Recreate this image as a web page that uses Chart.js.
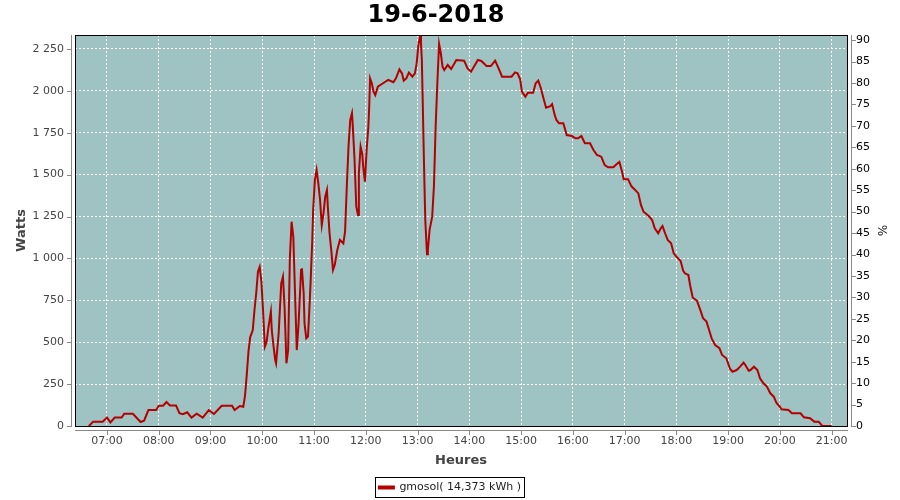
<!DOCTYPE html>
<html lang="fr">
<head>
    <meta charset="UTF-8">
    <title>19-6-2018</title>
    <script src="https://cdn.jsdelivr.net/npm/chart.js"></script>
    <style>
        body { margin: 0; padding: 0; background: #fff; }
        #chart { display: block; }
    </style>
</head>
<body>

<canvas id="chart" width="900" height="500"></canvas>

<script>
    // donnees (heure, watts)
    const times = [
        '06:39','06:44','06:55','07:00','07:04','07:09','07:17','07:20','07:30','07:39',
        '07:43','07:48','07:57','08:00','08:05','08:09','08:13','08:20','08:24','08:28',
        '08:33','08:38','08:44','08:51','08:58','09:04','09:13','09:25','09:28','09:34',
        '09:38','09:40','09:42','09:44','09:46','09:49','09:51','09:53','09:55','09:57',
        '09:59','10:01','10:03','10:05','10:07','10:10','10:11','10:13','10:15','10:16',
        '10:19','10:22','10:24','10:26','10:28','10:30','10:32','10:34','10:36','10:38',
        '10:40','10:42','10:45','10:46','10:48','10:49','10:51','10:53','10:54','10:56',
        '10:58','10:59','11:01','11:03','11:05','11:07','11:09','11:11','11:13','11:15',
        '11:16','11:18','11:20','11:22','11:24','11:27','11:30','11:34','11:36','11:38',
        '11:40','11:42','11:44','11:45','11:47','11:49','11:51','11:52','11:54','11:56',
        '11:57','11:59','12:01','12:03','12:04','12:05','12:07','12:09','12:11','12:14',
        '12:20','12:26','12:32','12:35','12:39','12:42','12:44','12:47','12:50','12:54',
        '12:57','12:59','13:01','13:03','13:04','13:05','13:06','13:07','13:08','13:09',
        '13:11','13:12','13:14','13:17','13:19','13:21','13:23','13:25','13:27','13:29',
        '13:31','13:35','13:39','13:45','13:54','13:58','14:02','14:05','14:10','14:14',
        '14:20','14:25','14:30','14:34','14:38','14:49','14:53','14:56','14:59','15:01',
        '15:05','15:08','15:14','15:17','15:20','15:23','15:26','15:29','15:34','15:36',
        '15:39','15:41','15:44','15:49','15:53','15:59','16:03','16:06','16:10','16:14',
        '16:20','16:24','16:28','16:33','16:37','16:41','16:47','16:51','16:54','16:57',
        '16:59','17:04','17:08','17:12','17:16','17:19','17:22','17:28','17:32','17:35',
        '17:39','17:42','17:44','17:47','17:50','17:54','17:57','18:01','18:05','18:08',
        '18:10','18:14','18:16','18:19','18:24','18:28','18:31','18:35','18:38','18:41',
        '18:45','18:50','18:53','18:58','19:02','19:05','19:10','19:14','19:18','19:20',
        '19:24','19:26','19:30','19:34','19:37','19:41','19:45','19:49','19:53','19:56',
        '20:00','20:02','20:10','20:14','20:24','20:28','20:35','20:40','20:45','20:49',
        '21:00'
    ];
    const watts = [
        0, 26, 26, 50, 22, 50, 50, 73, 73, 24,
        32, 95, 95, 121, 121, 143, 123, 123, 76, 70,
        82, 50, 73, 50, 95, 72, 121, 121, 95, 119,
        115, 179, 304, 443, 529, 573, 692, 792, 921, 950,
        861, 682, 473, 500, 583, 682, 573, 480, 394, 374,
        553, 851, 891, 692, 374, 453, 1000, 1219, 1130, 792,
        453, 600, 931, 941, 792, 613, 523, 533, 632, 851,
        1110, 1289, 1468, 1528, 1448, 1349, 1199, 1269, 1368, 1408,
        1309, 1150, 1050, 931, 961, 1050, 1110, 1090, 1159, 1428,
        1667, 1826, 1866, 1786, 1587, 1309, 1259, 1508, 1667, 1620,
        1547, 1458, 1647, 1786, 1905, 2074, 2045, 1995, 1975, 2025,
        2045, 2065, 2051, 2074, 2128, 2104, 2061, 2074, 2108, 2084,
        2104, 2164, 2273, 2327, 2283, 2184, 1945, 1687, 1448, 1229,
        1025, 1050, 1170, 1249, 1428, 1786, 2050, 2280, 2224, 2144,
        2124, 2154, 2130, 2184, 2180, 2134, 2114, 2140, 2184, 2178,
        2148, 2148, 2180, 2134, 2084, 2084, 2110, 2104, 2069, 1995,
        1965, 1989, 1989, 2045, 2061, 2015, 1955, 1899, 1909, 1921,
        1856, 1826, 1806, 1806, 1736, 1730, 1717, 1717, 1730, 1687,
        1687, 1647, 1617, 1607, 1557, 1544, 1544, 1563, 1575, 1520,
        1473, 1473, 1430, 1410, 1388, 1319, 1279, 1253, 1229, 1180,
        1150, 1180, 1193, 1150, 1110, 1090, 1030, 1005, 985, 926,
        911, 901, 840, 767, 747, 690, 643, 623, 573, 523,
        483, 464, 424, 404, 344, 324, 334, 354, 378, 364,
        330, 334, 354, 334, 285, 255, 235, 195, 175, 139,
        115, 100, 95, 76, 76, 52, 46, 26, 26, 2,
        0
    ];

    const hourTicks = [7, 8, 9, 10, 11, 12, 13, 14, 15, 16, 17, 18, 19, 20, 21];
    const hourLabels = ['07:00','08:00','09:00','10:00','11:00','12:00','13:00','14:00',
                        '15:00','16:00','17:00','18:00','19:00','20:00','21:00'];
    const wattTicks = [0, 250, 500, 750, 1000, 1250, 1500, 1750, 2000, 2250];
    const wattLabels = ['0','250','500','750','1 000','1 250','1 500','1 750','2 000','2 250'];
    const pctTicks = [0, 5, 10, 15, 20, 25, 30, 35, 40, 45, 50, 55, 60, 65, 70, 75, 80, 85, 90];

    const seriesLabel = 'gmosol( 14,373 kWh )';
    const chartTitle = '19-6-2018';

    function toHours(t) {
        const p = t.split(':');
        return parseInt(p[0]) + parseInt(p[1]) / 60;
    }

    const points = times.map((t, i) => ({ x: toHours(t), y: watts[i] }));

    Chart.defaults.font.family = "'DejaVu Sans', sans-serif";
    Chart.defaults.font.size = 11;
    Chart.defaults.color = '#444';

    // fond du graphe, cadre et axes decales comme dans l'original
    const plotFrame = {
        id: 'plotFrame',
        afterLayout(chart) {
            // le titre de l'original est un peu decale vers la gauche
            if (chart.titleBlock) {
                chart.titleBlock.left -= 14;
                chart.titleBlock.right -= 14;
            }
        },
        beforeDraw(chart) {
            const a = chart.chartArea, ctx = chart.ctx;
            ctx.save();
            ctx.fillStyle = '#9ec3c2';
            ctx.fillRect(a.left, a.top, a.right - a.left, a.bottom - a.top);
            ctx.restore();
        },
        afterDraw(chart) {
            const a = chart.chartArea, ctx = chart.ctx;
            const L = Math.round(a.left), R = Math.round(a.right);
            const T = Math.round(a.top), B = Math.round(a.bottom);
            ctx.save();
            ctx.lineWidth = 1;
            ctx.strokeStyle = '#000';
            ctx.strokeRect(L + 0.5, T + 0.5, R - L, B - T);

            ctx.strokeStyle = '#888';
            ctx.beginPath();
            // axe gauche
            ctx.moveTo(L - 3.5, T); ctx.lineTo(L - 3.5, B + 1);
            chart.scales.y.ticks.forEach(t => {
                const y = Math.round(chart.scales.y.getPixelForValue(t.value)) + 0.5;
                ctx.moveTo(L - 8, y); ctx.lineTo(L - 3, y);
            });
            // axe droit
            ctx.moveTo(R + 4.5, T); ctx.lineTo(R + 4.5, B + 1);
            chart.scales.y2.ticks.forEach(t => {
                const y = Math.round(chart.scales.y2.getPixelForValue(t.value)) + 0.5;
                ctx.moveTo(R + 4, y); ctx.lineTo(R + 9, y);
            });
            // axe du bas
            ctx.moveTo(L, B + 4.5); ctx.lineTo(R + 1, B + 4.5);
            chart.scales.x.ticks.forEach(t => {
                const x = Math.round(chart.scales.x.getPixelForValue(t.value)) + 0.5;
                ctx.moveTo(x, B + 4); ctx.lineTo(x, B + 9);
            });
            ctx.stroke();

            // cadre de la legende
            const hb = chart.legend.legendHitBoxes[0];
            if (hb) {
                ctx.strokeStyle = '#000';
                ctx.strokeRect(Math.round(hb.left) - 3.5, Math.round(hb.top) - 4.5,
                               Math.round(hb.width) + 7, Math.round(hb.height) + 9);
            }
            ctx.restore();
        }
    };

    new Chart(document.getElementById('chart'), {
        type: 'line',
        data: {
            datasets: [{
                label: seriesLabel,
                data: points,
                borderColor: '#b40000',
                backgroundColor: '#b40000',
                borderWidth: 2,
                pointRadius: 0,
                tension: 0,
                fill: false,
                yAxisID: 'y'
            }]
        },
        options: {
            responsive: false,
            animation: false,
            devicePixelRatio: 1,
            layout: { padding: { left: 0, right: 0, top: 0, bottom: -3 } },
            plugins: {
                title: {
                    display: true,
                    text: chartTitle,
                    color: '#000',
                    font: { size: 24, weight: 'bold' },
                    padding: { top: 1, bottom: 5.2 }
                },
                legend: {
                    position: 'bottom',
                    labels: {
                        boxWidth: 15,
                        boxHeight: 2,
                        padding: 10,
                        color: '#222',
                        font: { size: 11 }
                    }
                },
                tooltip: { enabled: false }
            },
            scales: {
                x: {
                    type: 'linear',
                    min: 6.382,
                    max: 21.298,
                    afterBuildTicks: s => { s.ticks = hourTicks.map(v => ({ value: v })); },
                    afterFit: s => { s.height = 46; },
                    ticks: {
                        autoSkip: false,
                        maxRotation: 0,
                        padding: 9,
                        callback: (v, i) => hourLabels[i]
                    },
                    grid: { color: '#fff', borderDash: [2, 2], drawTicks: false },
                    border: { display: false, dash: [2, 2] },
                    title: {
                        display: true,
                        text: 'Heures',
                        color: '#444',
                        font: { size: 13, weight: 'bold' },
                        padding: { top: 0, bottom: 4 }
                    }
                },
                y: {
                    type: 'linear',
                    position: 'left',
                    min: 0,
                    max: 2333,
                    afterBuildTicks: s => { s.ticks = wattTicks.map(v => ({ value: v })); },
                    afterFit: s => { s.width = 75; },
                    ticks: {
                        padding: 11,
                        callback: (v, i) => wattLabels[i]
                    },
                    grid: { color: '#fff', borderDash: [2, 2], drawTicks: false },
                    border: { display: false, dash: [2, 2] },
                    title: {
                        display: true,
                        text: 'Watts',
                        color: '#444',
                        font: { size: 13, weight: 'bold' },
                        padding: { top: 14, bottom: 0 }
                    }
                },
                y2: {
                    type: 'linear',
                    position: 'right',
                    min: 0,
                    max: 91.2,
                    afterBuildTicks: s => { s.ticks = pctTicks.map(v => ({ value: v })); },
                    afterFit: s => { s.width = 53; },
                    ticks: {
                        padding: 9,
                        color: '#000',
                        callback: v => String(v)
                    },
                    grid: { display: false, drawTicks: false },
                    border: { display: false },
                    title: {
                        display: true,
                        text: '%',
                        color: '#222',
                        font: { size: 12 },
                        padding: { top: 12, bottom: 0 }
                    }
                }
            }
        },
        plugins: [plotFrame]
    });
</script>

</body>
</html>
